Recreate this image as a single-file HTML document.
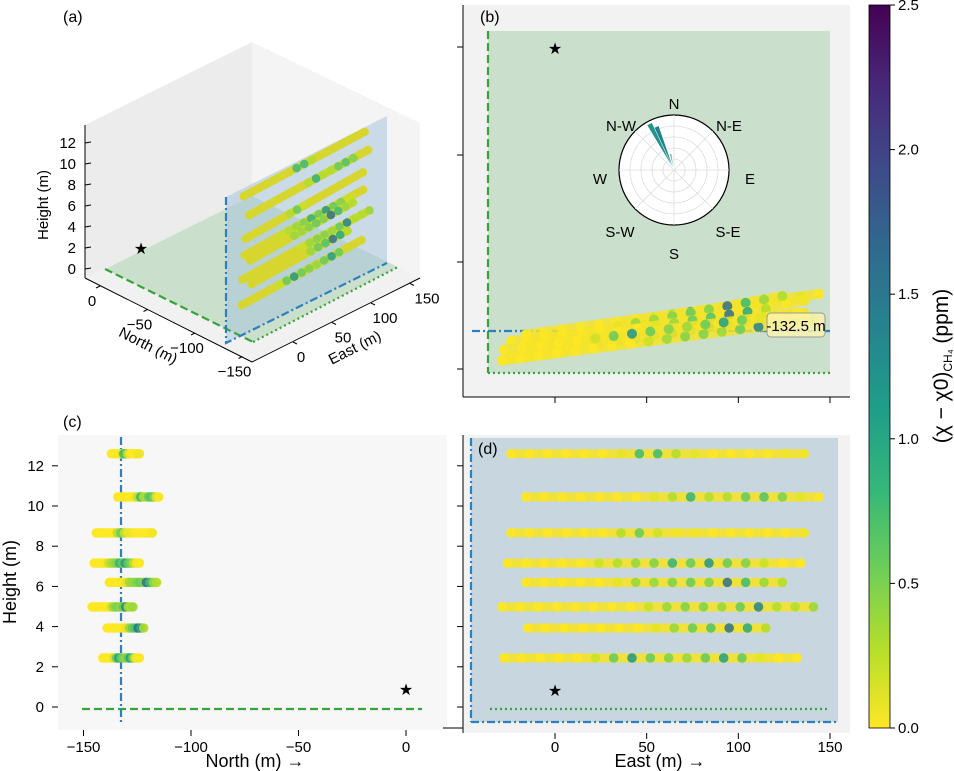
<!DOCTYPE html>
<html><head><meta charset="utf-8"><style>
html,body{margin:0;padding:0;background:#fff}
svg{display:block;font-family:"Liberation Sans","DejaVu Sans",sans-serif}
</style></head><body>
<svg id="fig" width="954" height="771" viewBox="0 0 954 771" xmlns="http://www.w3.org/2000/svg">
<defs>
<linearGradient id="cbg" x1="0" y1="1" x2="0" y2="0">
<stop offset="0" stop-color="#fde725"/><stop offset="0.11" stop-color="#b5de2b"/><stop offset="0.22" stop-color="#6ece58"/><stop offset="0.33" stop-color="#35b779"/><stop offset="0.44" stop-color="#1f9e89"/><stop offset="0.56" stop-color="#26828e"/><stop offset="0.67" stop-color="#31688e"/><stop offset="0.78" stop-color="#3e4989"/><stop offset="0.89" stop-color="#482878"/><stop offset="1" stop-color="#440154"/>
</linearGradient>
</defs>

<!-- panel a -->
<g>
<text x="63" y="22" font-size="16">(a)</text>
<polygon points="85,125 252,42 252,197 85,278" fill="#ececec"/>
<polygon points="252,42 420,123 420,278 252,197" fill="#f4f4f4"/>
<polygon points="85,278 252,197 420,278 252,362" fill="#f1f1f1"/>
<polygon points="105,269 252,196 398,267 253,342" fill="#cadfcc"/>
<polygon points="226,343 226,197 387,116 387,263" fill="#a9c4dc" opacity="0.55"/>
<line x1="85" y1="125" x2="85" y2="278" stroke="#000" stroke-width="1"/>
<line x1="85" y1="278" x2="252" y2="362" stroke="#000" stroke-width="1"/>
<line x1="252" y1="362" x2="420" y2="278" stroke="#000" stroke-width="1"/>
<line x1="105" y1="269" x2="253" y2="342" stroke="#3aa23a" stroke-width="2.2" stroke-dasharray="8,4"/>
<line x1="253" y1="342" x2="398" y2="267" stroke="#3aa23a" stroke-width="2.2" stroke-dasharray="2,3"/>
<polyline points="226,197 226,343 387,263" fill="none" stroke="#2e7fbf" stroke-width="2.2" stroke-dasharray="8,3,2,3"/>
<g id="a-ticks" font-size="15"></g>
<g id="a-points"></g>
<text x="141" y="254" font-size="16" text-anchor="middle">★</text>
<text transform="translate(48,205) rotate(-90)" font-size="15" text-anchor="middle">Height (m)</text>
<text transform="translate(146,350) rotate(27)" font-size="15" text-anchor="middle">North (m)</text>
<text transform="translate(357,352) rotate(-27)" font-size="15" text-anchor="middle">East (m)</text>
</g>

<!-- panel b -->
<g>
<rect x="463" y="5" width="387" height="392" fill="#f2f2f2"/>
<rect x="488" y="31" width="342" height="342" fill="#cadfcc"/>
<line x1="488" y1="31" x2="488" y2="373" stroke="#3aa23a" stroke-width="2.2" stroke-dasharray="8,4"/>
<line x1="488" y1="373" x2="830" y2="373" stroke="#3aa23a" stroke-width="2.2" stroke-dasharray="2,3"/>
<line x1="472" y1="331" x2="830" y2="331" stroke="#2e7fbf" stroke-width="2.2" stroke-dasharray="8,3,2,3"/>
<g id="b-points"></g>
<line x1="463" y1="5" x2="463" y2="397" stroke="#000"/>
<line x1="463" y1="397" x2="850" y2="397" stroke="#000"/>
<g id="b-ticks"></g>
<text x="480" y="22" font-size="16">(b)</text>
<text x="555" y="54" font-size="16" text-anchor="middle">★</text>
<rect x="767" y="313" width="58" height="24" rx="4" fill="#fbf3b0" fill-opacity="0.85" stroke="#999"/>
<text x="796" y="331" font-size="15" text-anchor="middle">-132.5 m</text>
<g id="polar">
<circle cx="674" cy="170" r="55" fill="#fff" stroke="#000" stroke-width="1.2"/>
<g id="polar-grid" stroke="#ddd" fill="none" stroke-width="0.8"></g>
<g id="polar-bars"></g>
<g font-size="15" text-anchor="middle">
<text x="674" y="109">N</text><text x="729" y="131">N-E</text><text x="750" y="184">E</text><text x="728" y="237">S-E</text>
<text x="674" y="259">S</text><text x="620" y="237">S-W</text><text x="600" y="184">W</text><text x="621" y="131">N-W</text>
</g>
</g>
</g>

<!-- panel c -->
<g>
<rect x="58" y="435" width="389" height="295" fill="#f7f7f7"/>
<line x1="82" y1="709" x2="422" y2="709" stroke="#3aa23a" stroke-width="2.2" stroke-dasharray="8,4"/>
<line x1="121" y1="437" x2="121" y2="725" stroke="#2e7fbf" stroke-width="2.2" stroke-dasharray="8,3,2,3"/>
<g id="c-points"></g>
<text x="406" y="695" font-size="16" text-anchor="middle">★</text>
<g id="c-ticks"></g>
<text x="63" y="427" font-size="16">(c)</text>
<text transform="translate(16,582) rotate(-90)" font-size="18" text-anchor="middle">Height (m)</text>
<text x="255" y="767" font-size="18" text-anchor="middle">North (m) →</text>
</g>

<!-- panel d -->
<g>
<rect x="463" y="435" width="387" height="298" fill="#f2f2f2"/>
<rect x="471" y="438" width="367" height="284" fill="#c8d6e0"/>
<line x1="471" y1="438" x2="471" y2="722" stroke="#2e7fbf" stroke-width="2.2" stroke-dasharray="8,3,2,3"/>
<line x1="471" y1="722" x2="838" y2="722" stroke="#2e7fbf" stroke-width="2.2" stroke-dasharray="8,3,2,3"/>
<line x1="490" y1="709" x2="830" y2="709" stroke="#3aa23a" stroke-width="2.2" stroke-dasharray="2,3"/>
<g id="d-points"></g>
<text x="555" y="696" font-size="16" text-anchor="middle">★</text>
<line x1="463" y1="435" x2="463" y2="733" stroke="#000"/>
<g id="d-ticks"></g>
<text x="478" y="454" font-size="16">(d)</text>
<text x="660" y="767" font-size="18" text-anchor="middle">East (m) →</text>
</g>

<!-- colorbar -->
<g>
<rect x="869" y="5" width="21" height="723" fill="url(#cbg)" stroke="#000" stroke-width="0.8"/>
<g id="cb-ticks" font-size="15"></g>
<text transform="translate(948,366) rotate(-90)" font-size="21" text-anchor="middle">(χ − χ0)<tspan font-size="12" dy="4">CH₄</tspan><tspan dy="-4"> (ppm)</tspan></text>
</g>
</svg>
<script>
// ---- data ----
const rowHeights = [12.6, 10.45, 8.66, 7.16, 6.2, 4.98, 3.93, 2.44];
const rowEastStart = [-24, -16, -24, -26, -16, -29, -15, -28];
const rowNorthStart = [-137, -134, -144, -145, -138, -146, -139, -141];
const rowNorthEnd = [-124, -115, -118, -124, -116, -127, -122, -124];
const sampleStep = 10;
const rowConc = [
 [0,0,0,0,0,0,0.1,0.8,0.8,0.3,0.1,0,0,0,0,0.05,0.05],
 [0,0,0,0,0,0,0,0.1,0.3,0.9,0.3,0.3,0.6,0.7,0.5,0.1,0],
 [0,0,0,0,0,0,0.3,0.6,0.2,0.05,0.05,0,0,0,0,0,0.05],
 [0,0,0,0,0,0.2,0.3,0.4,0.5,0.9,0.6,1.2,0.6,0.5,0.2,0,0],
 [0,0,0,0,0,0.1,0.4,0.4,0.5,0.6,0.5,1.6,0.8,0.4,0.3],
 [0,0,0,0,0,0,0,0,0.2,0.4,0.5,0.5,0.4,0.6,1.4,0.3,0.3,0.4],
 [0,0,0,0,0,0,0,0.1,0.4,0.6,0.7,1.6,1.0,0.3],
 [0,0,0,0,0,0.2,0.6,1.2,0.6,0.5,0.4,0.6,1.1,0.6,0.1,0,0]
];
const windDirs = [-28, -22, -12];
const windVals = [0.95, 0.85, 0.3];
const windColors = [1.2, 1.4, 0.9];
const cbTicks = [0, 0.5, 1.0, 1.5, 2.0, 2.5];
const heightTicks = [0,2,4,6,8,10,12];
const northTicks = [-150,-100,-50,0];
const eastTicks = [0,50,100,150];
const north3dTicks = [0,-50,-100,-150];
const east3dTicks = [0,50,100,150];

// ---- helpers ----
const NS='http://www.w3.org/2000/svg';
function mk(tag, attrs, parent){const e=document.createElementNS(NS,tag);for(const k in attrs)e.setAttribute(k,attrs[k]);parent.appendChild(e);return e;}
const vir=['#fde725','#b5de2b','#6ece58','#35b779','#1f9e89','#26828e','#31688e','#3e4989','#482878','#440154'];
function hex(h){return [parseInt(h.substr(1,2),16),parseInt(h.substr(3,2),16),parseInt(h.substr(5,2),16)];}
function cmap(v){let t=Math.max(0,Math.min(1,v/2.5))*(vir.length-1);const i=Math.min(vir.length-2,Math.floor(t));const f=t-i;const a=hex(vir[i]),b=hex(vir[i+1]);return 'rgb('+a.map((x,k)=>Math.round(x+(b[k]-x)*f)).join(',')+')';}
const eX = e => 555 + e*1.8333;
const nY = n => 47 - n*2.147;
const hY = h => 707 - h*20.1;
const nX = n => 406 + n*2.15;
const p3 = (e,n,h) => [226 + (e+45)*0.78 + (n+132.5)*-0.3, 336 - (e+45)*0.39 - h*10.5 + (n+132.5)*-0.15];
const cbY = v => 728 - v/2.5*723;

// ---- draw rows ----
const gA=document.getElementById('a-points'),gB=document.getElementById('b-points'),gC=document.getElementById('c-points'),gD=document.getElementById('d-points');
rowHeights.forEach((h,r)=>{
  const vals=rowConc[r], e0=rowEastStart[r], e1=e0+(vals.length-1)*sampleStep;
  const nAt = e => rowNorthStart[r] + (rowNorthEnd[r]-rowNorthStart[r])*(e-e0)/(e1-e0);
  let t=mk('line',{x1:eX(e0),y1:hY(h),x2:eX(e1),y2:hY(h),stroke:'#f5e42a','stroke-width':9,'stroke-linecap':'round',opacity:0.9},gD);
  
  
  t=mk('line',{x1:eX(e0),y1:nY(nAt(e0)),x2:eX(e1),y2:nY(nAt(e1)),stroke:'#f5e42a','stroke-width':10,'stroke-linecap':'round',opacity:0.85},gB);
  
  
  t=mk('line',{x1:nX(rowNorthStart[r]),y1:hY(h),x2:nX(rowNorthEnd[r]),y2:hY(h),stroke:'#f5e42a','stroke-width':9,'stroke-linecap':'round'},gC);
  
  
  const a0=p3(e0,nAt(e0),h),a1=p3(e1,nAt(e1),h);
  t=mk('line',{x1:a0[0],y1:a0[1],x2:a1[0],y2:a1[1],stroke:'#d6d62e','stroke-width':8,'stroke-linecap':'round'},gA);
  
  
  vals.forEach((v,i)=>{
    const e=e0+i*sampleStep, n=nAt(e), col=cmap(v);
    let c=mk('circle',{cx:eX(e),cy:hY(h),r:4.8,fill:col,opacity:0.85},gD);
    
    
    c=mk('circle',{cx:eX(e),cy:nY(n),r:5,fill:col,opacity:0.85},gB);
    
    
    c=mk('circle',{cx:nX(n),cy:hY(h),r:4.8,fill:col,opacity:0.85},gC);
    
    
    const q=p3(e,n,h);
    c=mk('circle',{cx:q[0],cy:q[1],r:4.3,fill:v<0.15?'#d6d62e':col,opacity:0.85},gA);
    
    
  });
});

// ---- ticks ----
const tb=document.getElementById('b-ticks');
[47,155,262,369].forEach(y=>mk('line',{x1:457,y1:y,x2:463,y2:y,stroke:'#000'},tb));
eastTicks.forEach(e=>mk('line',{x1:eX(e),y1:397,x2:eX(e),y2:403,stroke:'#000'},tb));
const tc=document.getElementById('c-ticks');
heightTicks.forEach(h=>{mk('line',{x1:52,y1:hY(h),x2:58,y2:hY(h),stroke:'#000'},tc);const t=mk('text',{x:44,y:hY(h)+5,'font-size':15,'text-anchor':'end'},tc);t.textContent=h;});
northTicks.forEach(n=>{mk('line',{x1:nX(n),y1:730,x2:nX(n),y2:736,stroke:'#000'},tc);const t=mk('text',{x:nX(n),y:752,'font-size':15,'text-anchor':'middle'},tc);t.textContent=n===0?'0':'−'+Math.abs(n);});
const td=document.getElementById('d-ticks');
heightTicks.forEach(h=>mk('line',{x1:457,y1:hY(h),x2:463,y2:hY(h),stroke:'#000'},td));
mk('line',{x1:443,y1:728,x2:463,y2:728,stroke:'#000'},td);
eastTicks.forEach(e=>{mk('line',{x1:eX(e),y1:733,x2:eX(e),y2:739,stroke:'#000'},td);const t=mk('text',{x:eX(e),y:752,'font-size':15,'text-anchor':'middle'},td);t.textContent=e;});
const ta=document.getElementById('a-ticks');
heightTicks.forEach(h=>{const y=269-h*10.5;mk('line',{x1:85,y1:y,x2:91,y2:y-1,stroke:'#000'},ta);const t=mk('text',{x:76,y:y+5,'text-anchor':'end'},ta);t.textContent=h;});
north3dTicks.forEach((n,i)=>{const x=100+i*47.5,y=286+i*23.5;mk('line',{x1:x,y1:y,x2:x-4,y2:y+2,stroke:'#000'},ta);const t=mk('text',{x:x-8,y:y+20,'text-anchor':'middle'},ta);t.textContent=n===0?'0':'−'+Math.abs(n);});
east3dTicks.forEach((e,i)=>{const x=293+i*39,y=342-i*19.5;mk('line',{x1:x,y1:y,x2:x+4,y2:y+2,stroke:'#000'},ta);const t=mk('text',{x:x+8+i*3,y:y+20,'text-anchor':'middle'},ta);t.textContent=e;});
const tcb=document.getElementById('cb-ticks');
cbTicks.forEach(v=>{mk('line',{x1:890,y1:cbY(v),x2:895,y2:cbY(v),stroke:'#000'},tcb);const t=mk('text',{x:898,y:cbY(v)+5},tcb);t.textContent=v.toFixed(1);});

// ---- polar ----
const pg=document.getElementById('polar-grid');
[11,22,33,44].forEach(r=>mk('circle',{cx:674,cy:170,r:r},pg));
for(let a=0;a<360;a+=45){const rad=a*Math.PI/180;mk('line',{x1:674,y1:170,x2:674+55*Math.sin(rad),y2:170-55*Math.cos(rad)},pg);}
const pb=document.getElementById('polar-bars');
windDirs.forEach((d,i)=>{
  const r=55*windVals[i],a0=(d-3)*Math.PI/180,a1=(d+3)*Math.PI/180;
  const p=mk('path',{d:`M674,170 L${674+r*Math.sin(a0)},${170-r*Math.cos(a0)} A${r},${r} 0 0 1 ${674+r*Math.sin(a1)},${170-r*Math.cos(a1)} Z`,fill:cmap(windColors[i]),stroke:'#fff','stroke-width':0.5},pb);
  
  
});
</script>
</body></html>
